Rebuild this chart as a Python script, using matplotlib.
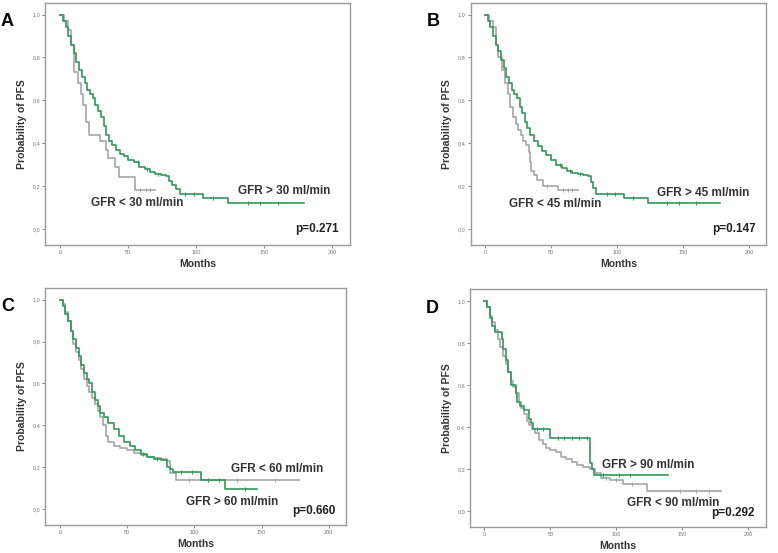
import matplotlib
matplotlib.use("Agg")
import matplotlib.pyplot as plt
import numpy as np

plt.rcParams["font.family"] = ["Liberation Sans", "DejaVu Sans"]

GREEN = "#2f9a5a"
GREY = "#a6a6a6"

# ---- Kaplan-Meier curves (step start times, survival, last follow-up) ----
a_hi_t = [0, 2, 4, 6, 8, 10, 12, 14, 16, 18, 20, 22, 24, 26, 28, 30, 32, 34, 36, 38,
          41, 44, 47, 50, 54, 58, 62, 66, 70, 74, 78, 80, 82, 85, 88, 105, 123]
a_hi_s = [1.0, 0.97, 0.94, 0.9, 0.86, 0.82, 0.78, 0.74, 0.71, 0.68, 0.65, 0.63, 0.61, 0.58,
          0.55, 0.52, 0.48, 0.44, 0.41, 0.39, 0.37, 0.35, 0.34, 0.32, 0.31, 0.29, 0.28, 0.265,
          0.255, 0.25, 0.245, 0.225, 0.205, 0.185, 0.165, 0.145, 0.12]
a_hi_end = 179
a_hi_cens = [57, 64, 72, 92, 98, 112, 138, 147, 160]
a_lo_t = [0, 3, 6, 8, 10, 13, 15, 17, 19, 21, 29, 34, 35, 40, 43, 55]
a_lo_s = [1.0, 0.97, 0.93, 0.86, 0.73, 0.68, 0.63, 0.58, 0.5, 0.44, 0.41, 0.37, 0.33, 0.29, 0.24, 0.18]
a_lo_end = 70
a_lo_cens = [59, 63, 66]

b_hi_t = [0, 2, 4, 6, 8, 10, 12, 14, 16, 18, 20, 22, 24, 26, 28, 30, 32, 34, 37, 40,
          43, 46, 50, 54, 58, 62, 66, 70, 74, 78, 80, 82, 84, 105, 123]
b_hi_s = [1.0, 0.97, 0.94, 0.9, 0.86, 0.83, 0.79, 0.75, 0.71, 0.68, 0.65, 0.63, 0.61, 0.57,
          0.54, 0.5, 0.47, 0.44, 0.41, 0.385, 0.365, 0.345, 0.32, 0.3, 0.285, 0.27, 0.26,
          0.255, 0.25, 0.245, 0.22, 0.19, 0.165, 0.145, 0.12]
b_hi_end = 178
b_hi_cens = [57, 64, 72, 92, 98, 112, 138, 147, 160]
b_lo_t = [0, 3, 6, 8, 10, 13, 15, 17, 19, 21, 23, 25, 27, 29, 31, 33, 34, 35, 37, 39, 44, 55]
b_lo_s = [1.0, 0.97, 0.94, 0.86, 0.8, 0.74, 0.68, 0.63, 0.57, 0.52, 0.49, 0.46, 0.44, 0.41,
          0.39, 0.36, 0.31, 0.27, 0.25, 0.23, 0.2, 0.18]
b_lo_end = 70
b_lo_cens = [47, 59, 63, 66]

c_hi_t = [0, 2, 4, 6, 8, 10, 12, 14, 16, 18, 20, 22, 24, 26, 28, 30, 33, 36, 40, 44,
          48, 52, 56, 60, 65, 70, 75, 80, 82, 84, 105, 123]
c_hi_s = [1.0, 0.97, 0.93, 0.9, 0.85, 0.81, 0.77, 0.73, 0.69, 0.65, 0.62, 0.6, 0.56, 0.52,
          0.49, 0.46, 0.44, 0.41, 0.38, 0.35, 0.32, 0.3, 0.28, 0.265, 0.25, 0.24, 0.235,
          0.2, 0.19, 0.175, 0.14, 0.095]
c_hi_end = 147
c_hi_cens = [62, 72, 90, 98, 110, 118, 138]
c_lo_t = [0, 2, 4, 6, 8, 10, 12, 14, 16, 18, 20, 22, 24, 26, 28, 30, 32, 34, 36, 40,
          45, 50, 55, 60, 65, 70, 75, 80, 82, 86]
c_lo_s = [1.0, 0.98, 0.94, 0.9, 0.85, 0.79, 0.75, 0.71, 0.67, 0.62, 0.59, 0.56, 0.53, 0.5,
          0.47, 0.44, 0.4, 0.35, 0.32, 0.3, 0.29, 0.28, 0.27, 0.26, 0.25, 0.245, 0.24,
          0.23, 0.17, 0.14]
c_lo_end = 178
c_lo_cens = [96, 110, 132, 160]

d_hi_t = [0, 2, 4, 6, 8, 13, 14, 16, 18, 20, 24, 25, 27, 30, 34, 35, 37, 50, 80, 81.5, 83]
d_hi_s = [1.0, 0.97, 0.92, 0.88, 0.85, 0.82, 0.77, 0.72, 0.66, 0.6, 0.56, 0.52, 0.5, 0.48,
          0.44, 0.42, 0.39, 0.35, 0.23, 0.2, 0.17]
d_hi_end = 139
d_hi_cens = [40, 44, 56, 60, 66, 72, 78, 90, 102, 110]
d_lo_t = [0, 2, 4, 6, 8, 10, 12, 14, 16, 18, 20, 22, 24, 26, 28, 30, 32, 34, 36, 38,
          41, 44, 47, 50, 54, 58, 62, 66, 70, 75, 80, 84, 88, 95, 105, 123]
d_lo_s = [1.0, 0.97, 0.93, 0.9, 0.86, 0.82, 0.78, 0.74, 0.7, 0.66, 0.62, 0.59, 0.56, 0.52,
          0.49, 0.46, 0.43, 0.41, 0.39, 0.37, 0.34, 0.32, 0.3, 0.29, 0.28, 0.26, 0.25,
          0.235, 0.22, 0.21, 0.2, 0.18, 0.16, 0.15, 0.13, 0.095]
d_lo_end = 179
d_lo_cens = [92, 100, 112, 148, 160, 170]

panels = [
    ("A", [0.058, 0.557, 0.392, 0.438],
     (a_hi_t, a_hi_s, a_hi_end, a_hi_cens), (a_lo_t, a_lo_s, a_lo_end, a_lo_cens),
     [("GFR > 30 ml/min", 131, 0.175), ("GFR < 30 ml/min", 22.5, 0.12)], "p=0.271", 0.0),
    ("B", [0.605, 0.557, 0.380, 0.438],
     (b_hi_t, b_hi_s, b_hi_end, b_hi_cens), (b_lo_t, b_lo_s, b_lo_end, b_lo_cens),
     [("GFR > 45 ml/min", 130, 0.167), ("GFR < 45 ml/min", 18.3, 0.118)], "p=0.147", 0.0),
    ("C", [0.058, 0.051, 0.387, 0.428],
     (c_hi_t, c_hi_s, c_hi_end, c_hi_cens), (c_lo_t, c_lo_s, c_lo_end, c_lo_cens),
     [("GFR < 60 ml/min", 127, 0.19), ("GFR > 60 ml/min", 94, 0.035)], "p=0.660", -0.01),
    ("D", [0.604, 0.047, 0.380, 0.430],
     (d_hi_t, d_hi_s, d_hi_end, d_hi_cens), (d_lo_t, d_lo_s, d_lo_end, d_lo_cens),
     [("GFR > 90 ml/min", 89, 0.22), ("GFR < 90 ml/min", 108, 0.04)], "p=0.292", -0.008),
]


def km(ax, curve, color, z):
    t, s, end, cens = curve
    xs = list(t) + [end]
    ys = list(s) + [s[-1]]
    ax.step(xs, ys, where="post", color=color, lw=1.2, zorder=z)
    idx = np.searchsorted(t, cens, side="right") - 1
    cy = np.array(s)[idx]
    ax.plot(cens, cy, ls="none", marker="|", ms=3, mew=0.7, color=color, zorder=z)


fig = plt.figure(figsize=(7.78, 5.53), dpi=100)

for letter, rect, hi, lo, labels, ptxt, py in panels:
    ax = fig.add_axes(rect)
    km(ax, lo, GREY, 2)
    km(ax, hi, GREEN, 3)
    ax.set_xlim(-11, 213)
    ax.set_ylim(-0.075, 1.055)
    ax.set_xticks([0, 50, 100, 150, 200])
    ax.set_yticks([0, 0.2, 0.4, 0.6, 0.8, 1.0])
    ax.set_yticklabels(["0,0", "0,2", "0,4", "0,6", "0,8", "1,0"])
    ax.tick_params(labelsize=4, colors="#777777", length=2, width=0.6, pad=1.5)
    for sp in ax.spines.values():
        sp.set_color("#9a9a9a")
        sp.set_linewidth(1.0)
    ax.set_ylabel("Probability of PFS", fontsize=7.5, fontweight="bold", color="#333333", labelpad=4)
    ax.set_xlabel("Months", fontsize=7.5, fontweight="bold", color="#333333", labelpad=3)
    for txt, x, y in labels:
        ax.text(x, y, txt, fontsize=8.5, fontweight="bold", color="#333333", va="center", ha="left")
    ax.text(205, py, ptxt, fontsize=8.5, fontweight="bold", color="#222222", va="center", ha="right")
    fig.text(rect[0] - 0.057, rect[1] + rect[3] - 0.034, letter, fontsize=13, fontweight="bold",
             ha="left", va="center")

fig.savefig("out.png", dpi=100)
